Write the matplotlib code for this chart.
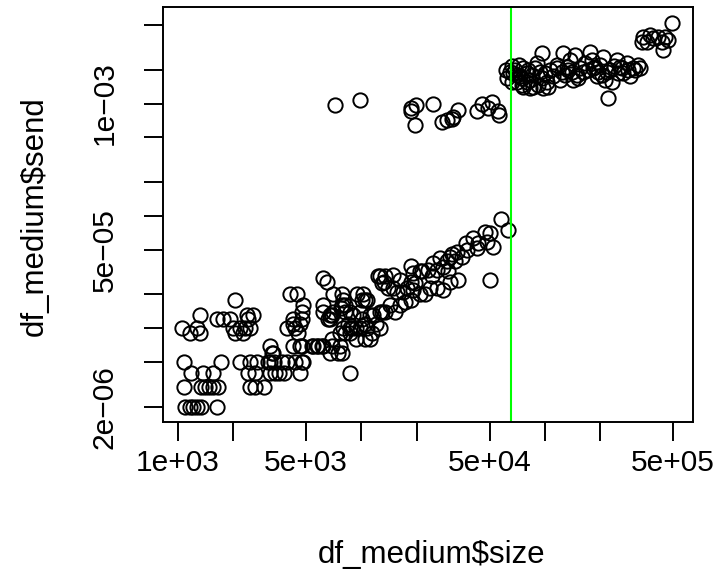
import numpy as np
import matplotlib
matplotlib.use("Agg")
import matplotlib.pyplot as plt

plt.rcParams['font.family'] = ['Liberation Sans', 'DejaVu Sans']

# small messages: size (bytes) and send time (microseconds, timer resolution 1 us)
small_size = [1092, 1163, 1210, 1270, 1330, 1630,
              1080, 1330, 1404, 1475, 1550, 1660, 2470, 2630, 2940,
              1180, 1370, 1550, 2410, 2630, 3175, 3380, 3550, 3780, 4626, 8666,
              1080, 1715, 2178, 2470, 3100, 3340, 3930, 4740, 2700, 3175, 3700, 4345, 4800,
              3260, 7830, 3300, 6740, 7450,
              3175, 4740, 5450, 5800, 6180, 6900, 7640, 4240, 4626, 5380, 6100, 5700,
              6900, 10460, 11140, 9400,
              1163, 1318, 2046, 2260, 4500, 8140, 11400, 7640, 8666,
              1050, 1270, 2000, 2178, 2320, 3930, 4345, 7940, 8900, 2470, 8666, 9826, 9400, 10750, 12630,
              4240, 4626, 10460, 12000, 8400,
              1630, 1760, 1920, 2410, 4240, 4740, 6740, 10100, 6600,
              1318, 2380, 6900, 2570, 6740, 11580, 11140, 9000,
              4740, 6180, 8666, 12900, 13450, 12630, 15250, 8140, 7000, 9826,
              7740,
              4800, 8140, 6180, 16240, 14320, 7830,
              17300,
              2046, 7940, 10460, 10100, 10750, 18700,
              4080, 4450, 7000, 7830, 9460, 10200, 20900, 22200,
              15700, 16900,
              27800, 19000,
              25800, 23700, 17700, 14800, 14000,
              12900, 19600,
              6500, 30400, 13200, 18700,
              33800, 50265, 16240,
              6180,
              12300, 13450, 24200, 12630,
              14800, 19000,
              21500, 20900, 29800,
              25800, 23000,
              27800, 18700, 24600,
              32400, 29200, 26830,
              30400, 35400, 31200, 33200, 37700, 42600, 52200,
              43200, 37200, 48400, 40600, 50265, 47200, 63000, 57700]
small_send_us = [2, 2, 2, 2, 2, 2,
                 3, 3, 3, 3, 3, 3, 3, 3, 3,
                 4, 4, 4, 4, 4, 4, 4, 4, 4, 4, 4,
                 5, 5, 5, 5, 5, 5, 5, 5, 5, 5, 5, 5, 5,
                 6, 6, 6, 6, 6,
                 7, 7, 7, 7, 7, 7, 7, 7, 7, 7, 7, 7,
                 8, 8, 8, 8,
                 9, 9, 9, 9, 9, 9, 9, 9, 9,
                 10, 10, 10, 10, 10, 10, 10, 10, 10, 10, 10, 10, 10, 10, 10,
                 11, 11, 11, 11, 11,
                 12, 12, 12, 12, 12, 12, 12, 12, 12,
                 13, 13, 13, 13, 13, 13, 13, 13,
                 14, 14, 14, 14, 14, 14, 14, 14, 14, 14,
                 15,
                 16, 16, 16, 16, 16, 16,
                 17,
                 18, 18, 18, 18, 18, 18,
                 20, 20, 20, 20, 20, 20, 20, 20,
                 21, 21,
                 22, 22,
                 23, 23, 23, 23, 23,
                 25, 25,
                 26, 26, 26, 26,
                 27, 27, 27,
                 28,
                 29, 29, 29, 29,
                 30, 31,
                 32, 32, 32,
                 33, 33,
                 35, 36, 38,
                 40, 40, 42,
                 43, 43, 46, 48, 50, 52, 53,
                 57, 57, 59, 63, 71, 72, 75, 93]

# medium messages below the 64 KiB limit that took ~1 ms
mid_size = [7200, 9826, 18700, 19800, 18700, 19600, 24600, 27500, 29200,
            31300, 31600, 33600, 42700, 45500, 51800, 55200, 56000, 49200]
mid_send = [0.97e-3, 1.08e-3, 0.85e-3, 0.97e-3, 0.91e-3, 0.645e-3, 1.0e-3, 0.69e-3, 0.71e-3,
            0.73e-3, 0.76e-3, 0.88e-3, 0.86e-3, 1.0e-3, 1.04e-3, 0.85e-3, 0.79e-3, 0.91e-3]

# large messages
big_size = [68800, 72000, 76400, 73300, 70200, 67300, 64600, 66000, 74700, 79700,
            84800, 88400, 90300, 94200, 96200, 92200, 98100, 102300, 86600, 79700,
            96200, 116000, 123600, 121000, 131600, 137200, 146100, 126200, 140000, 149200,
            155600, 165700, 143100, 176400, 180100, 183900, 191800, 200000, 208500, 217600,
            213000, 231700, 222000, 246500, 257100, 268200, 279800, 291500, 303800, 323600,
            330400, 344600, 359800, 390700, 416000, 434000, 452200, 472000, 443000, 492000,
            337600, 374600,
            66000, 70600, 75000, 81000, 83000, 100250, 106750, 110900, 116400, 128900,
            133800, 151700, 161500, 172000, 187800, 195000, 205200, 226700, 238400, 250700,
            263600, 284300, 310300,
            76400, 83000, 104000, 61400, 62200]
big_send = [1.99e-3, 2.21e-3, 2.06e-3, 1.77e-3, 1.57e-3, 1.86e-3, 1.92e-3, 1.57e-3, 1.46e-3, 1.57e-3,
            1.80e-3, 2.06e-3, 2.28e-3, 1.92e-3, 1.68e-3, 1.46e-3, 1.37e-3, 1.57e-3, 1.41e-3, 1.86e-3,
            2.81e-3, 2.06e-3, 1.92e-3, 1.62e-3, 2.13e-3, 2.45e-3, 2.71e-3, 2.81e-3, 1.92e-3, 1.80e-3,
            2.06e-3, 2.28e-3, 1.62e-3, 2.90e-3, 2.45e-3, 2.06e-3, 1.77e-3, 2.21e-3, 2.62e-3, 1.92e-3,
            1.62e-3, 1.57e-3, 1.11e-3, 2.45e-3, 2.13e-3, 1.86e-3, 2.28e-3, 1.77e-3, 2.06e-3, 2.21e-3,
            2.06e-3, 3.94e-3, 3.56e-3, 3.81e-3, 3.94e-3, 3.56e-3, 3.94e-3, 3.69e-3, 3.0e-3, 5.19e-3,
            3.56e-3, 4.08e-3,
            2.16e-3, 1.80e-3, 1.70e-3, 1.99e-3, 1.62e-3, 1.87e-3, 1.99e-3, 1.76e-3, 2.21e-3, 1.80e-3,
            1.99e-3, 1.70e-3, 1.91e-3, 1.99e-3, 2.12e-3, 1.91e-3, 1.80e-3, 1.99e-3, 2.16e-3, 1.87e-3,
            2.07e-3, 1.99e-3, 1.99e-3,
            1.41e-3, 1.37e-3, 1.40e-3, 1.99e-3, 1.70e-3]

limit = 65536

x_ticks = [1e3, 2e3, 5e3, 1e4, 2e4, 5e4, 1e5, 2e5, 5e5]
x_labels = ['1e+03', '', '5e+03', '', '', '5e+04', '', '', '5e+05']
y_ticks = [2e-6, 5e-6, 1e-5, 2e-5, 5e-5, 1e-4, 2e-4, 5e-4, 1e-3, 2e-3, 5e-3]
y_labels = ['2e\u221206', '', '', '', '5e\u221205', '', '', '', '1e\u221203', '', '']

size = np.array(small_size + mid_size + big_size, dtype=float)
send = np.array([v * 1e-6 for v in small_send_us] + mid_send + big_send)

fig = plt.figure(figsize=(7.22, 5.78), dpi=100)
ax = fig.add_axes([162.7 / 722, 1 - 421.7 / 578, 530 / 722, 414.4 / 578])

ax.plot(size, send, 'o', ls='none', mfc='none', mec='black', ms=10.3, mew=1.4, clip_on=False)
ax.axvline(limit, color='#00ff00', lw=1.5)

ax.set_xscale('log')
ax.set_yscale('log')
ax.set_xlim(10 ** 2.9166, 10 ** 5.806)
ax.set_ylim(10 ** -5.8326, 10 ** -2.1434)
ax.minorticks_off()
ax.set_xticks(x_ticks)
ax.set_xticklabels(x_labels)
ax.set_yticks(y_ticks)
ax.set_yticklabels(y_labels, rotation=90, va='center')

for s in ax.spines.values():
    s.set_linewidth(1.4)
ax.tick_params(length=13.5, width=1.4, labelsize=21.5, colors='black')
ax.tick_params(axis='x', pad=6)
ax.tick_params(axis='y', pad=18)

fig.text(432 / 722, 1 - 555 / 578, 'df_medium$size', ha='center', va='center', fontsize=22.5)
fig.text(35 / 722, 1 - 216 / 578, 'df_medium$send', ha='center', va='center', fontsize=22.5,
         rotation=90)

fig.savefig('out.png', dpi=100)
